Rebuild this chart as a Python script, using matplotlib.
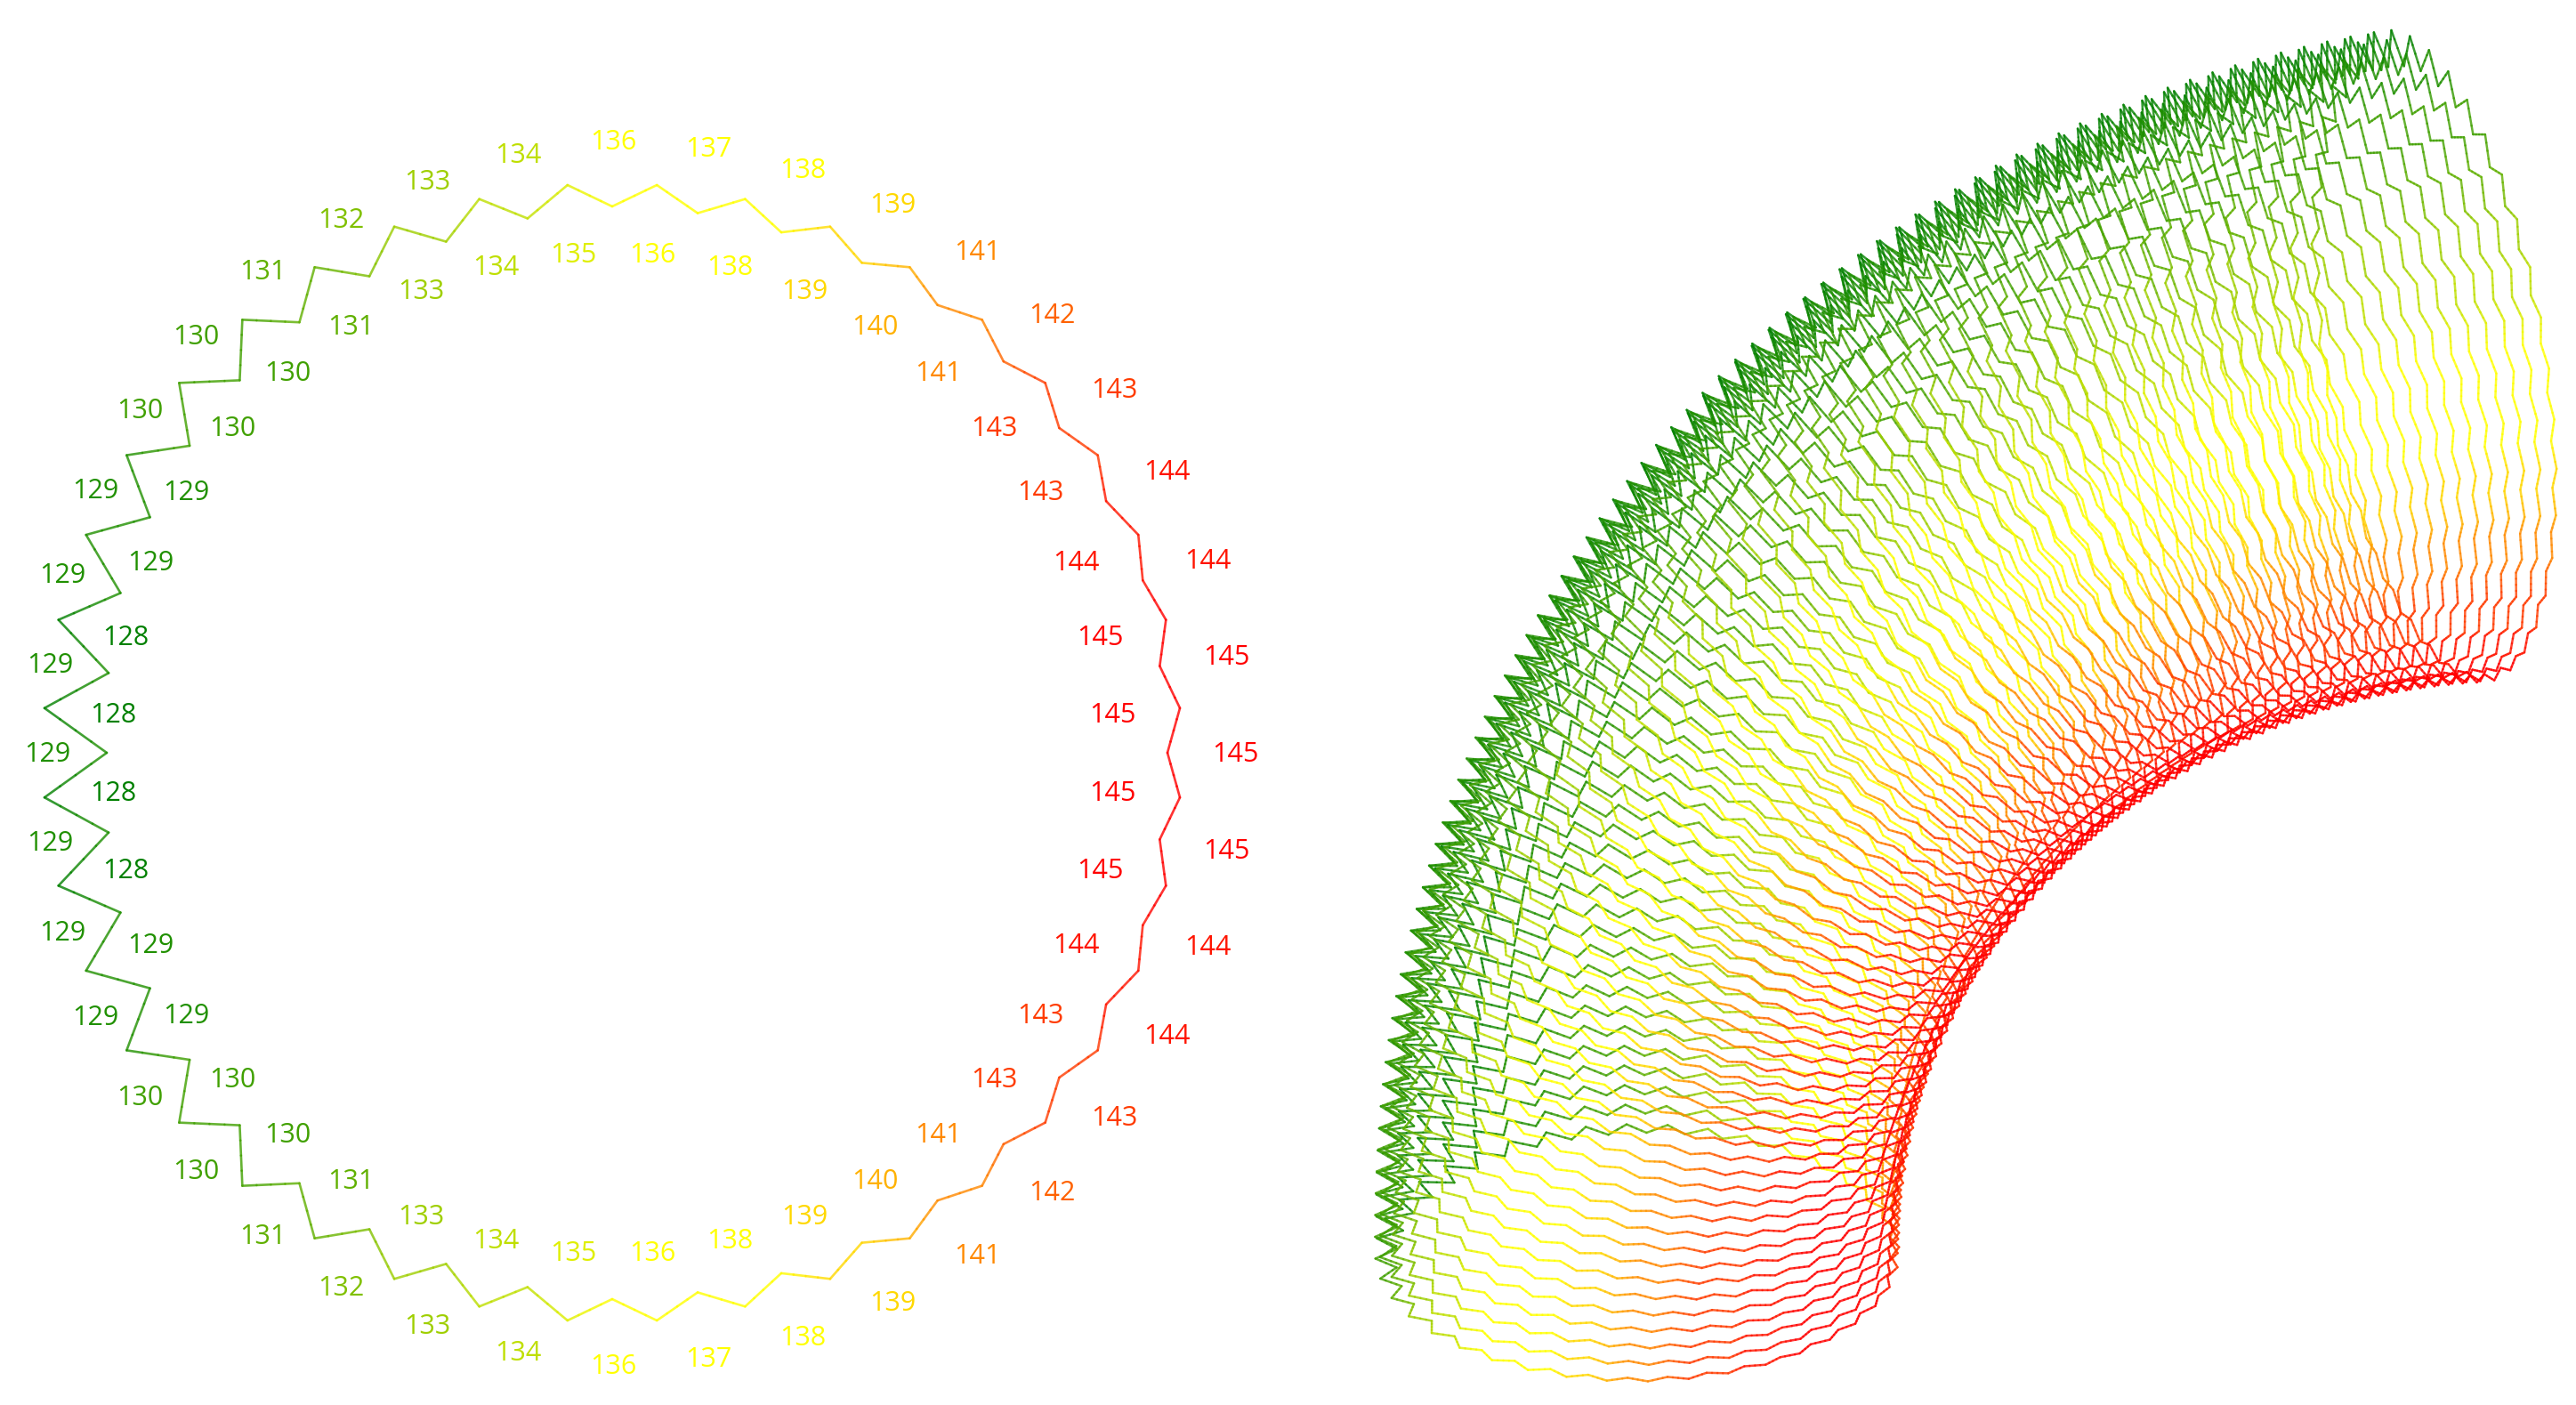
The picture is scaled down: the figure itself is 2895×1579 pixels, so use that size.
import numpy as np
import matplotlib
matplotlib.use("Agg")
import matplotlib.pyplot as plt
from matplotlib.collections import LineCollection
from matplotlib.colors import LinearSegmentedColormap, Normalize

# valores, de izquierda a derecha por arriba (cada 4.5 grados)
values = [129, 128, 129, 128, 129, 129, 129, 129, 130, 130, 130, 130, 131, 131, 132, 133, 133, 134, 134, 135, 136,
          136, 137, 138, 138, 139, 139, 140, 141, 141, 142, 143, 143, 143, 144, 144, 144, 145, 145, 145, 145]
# radio de los puntos interiores del zigzag (indices pares)
inner_radius = [568, 573, 581, 583, 587, 592, 598, 601, 604, 608, 614,
                614, 615, 618, 622, 622, 621, 623, 627, 623, 624]
outer_radius = 640

cmap = LinearSegmentedColormap.from_list(
    "gyr", [(0, "#008000"), (8 / 17, "#ffff00"), (10 / 17, "#ffff00"), (16.5 / 17, "#ff0000"), (1, "#ff0000")])
norm = Normalize(128, 145)
center = (688, 846)
step = np.radians(4.5)
vals = np.array(values, dtype=float)
radius = np.array([inner_radius[k // 2] if k % 2 == 0 else outer_radius for k in range(len(values))], dtype=float)


def gradient_line(ax, x, y, v, lw):
    # parte cada tramo para que el color cambie a lo largo de la linea
    segs, cols = [], []
    for i in range(len(x) - 1):
        sx = np.linspace(x[i], x[i + 1], 5)
        sy = np.linspace(y[i], y[i + 1], 5)
        sv = np.linspace(v[i], v[i + 1], 5)
        for j in range(4):
            segs.append([(sx[j], sy[j]), (sx[j + 1], sy[j + 1])])
            cols.append(cmap(norm((sv[j] + sv[j + 1]) / 2), alpha=0.8))
    ax.add_collection(LineCollection(segs, colors=cols, linewidths=lw, capstyle="round"))


fig = plt.figure(figsize=(28.95, 15.79), dpi=100)
ax = fig.add_axes([0, 0, 1, 1])
ax.set_xlim(0, 2895)
ax.set_ylim(1579, 0)
ax.axis("off")

# ---- anillo de la izquierda
k = np.arange(len(values))
ang = k * step
for sign in (-1, 1):
    x = center[0] - radius * np.cos(ang)
    y = center[1] + sign * radius * np.sin(ang)
    gradient_line(ax, x, y, vals, 1.9)
    for i in range(len(values)):
        if sign == 1 and i in (0, len(values) - 1):
            continue
        rl = 563 if i % 2 else radius[i] * 1.15 - 18
        ax.text(center[0] + 1 - rl * np.cos(ang[i]), center[1] + 2 + sign * rl * np.sin(ang[i]), str(values[i]),
                color=cmap(norm(values[i])), fontsize=22, family="Open Sans", ha="center", va="center")

# ---- barrido de la derecha: el mismo anillo cerrado, visto como elipse
n_sections = 72
origin = (2833, 1408)
t = np.linspace(0, 1, n_sections)
phi = np.radians(83) * t
rc = 993 + 12 * t + 5 * np.sin(np.pi * t)
# eje verde-rojo que gira con el codo y eje perpendicular casi fijo
g_ang = np.radians(21 + 60 * t)
g_len = 248 + 123 * t + 15 * np.sin(np.pi * t)
gx, gy = g_len * np.cos(g_ang), g_len * np.sin(g_ang)
nx, ny = 182 - 57 * t, -114 + 99 * t

ring_ang = np.concatenate([ang, -ang[-2::-1]])
ring_u = np.concatenate([radius, radius[-2::-1]]) / outer_radius
ring_v = np.concatenate([vals, vals[-2::-1]])

for i in range(n_sections):
    cx = origin[0] - rc[i] * np.cos(phi[i]) + 25 * t[i] ** 2
    cy = origin[1] - rc[i] * np.sin(phi[i]) - 10 * t[i] ** 2
    x = cx + ring_u * (-np.cos(ring_ang) * gx[i] + np.sin(ring_ang) * nx[i])
    y = cy + ring_u * (-np.cos(ring_ang) * gy[i] + np.sin(ring_ang) * ny[i])
    gradient_line(ax, x, y, ring_v, 1.8)

fig.savefig("out.png", dpi=100)
plt.close()
